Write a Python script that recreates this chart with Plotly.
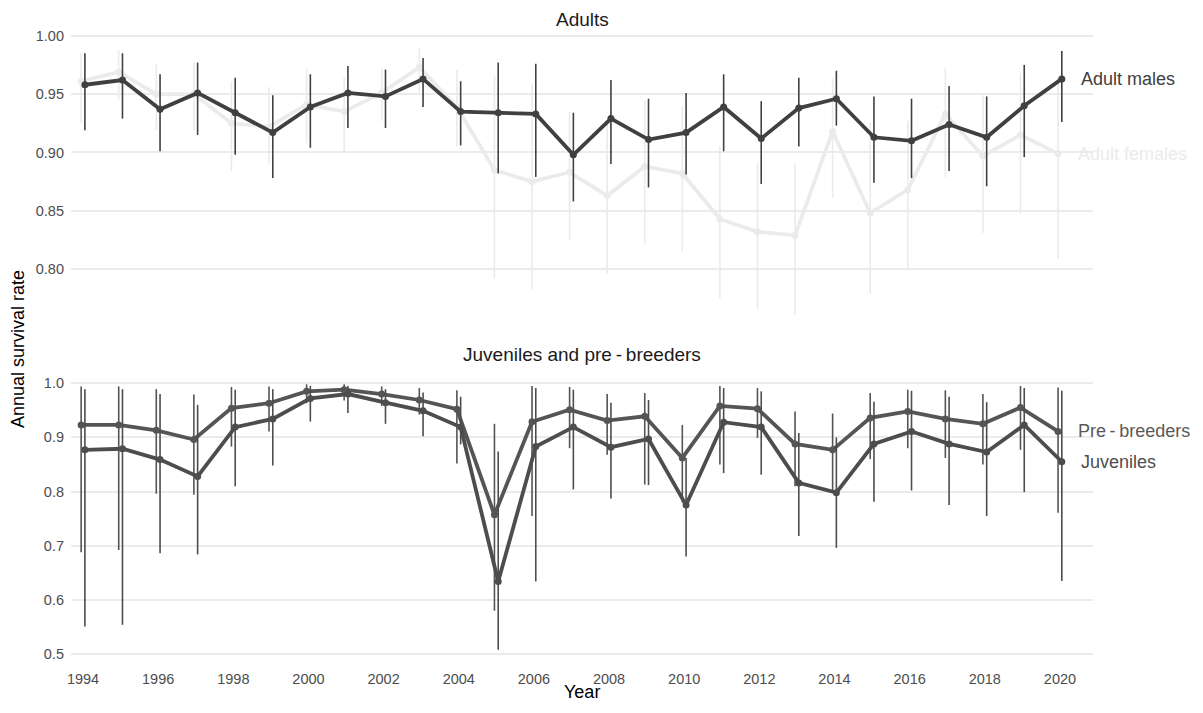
import plotly.graph_objects as go

years = list(range(1994, 2021))

# Adults
males = [0.958, 0.962, 0.937, 0.951, 0.934, 0.917, 0.939, 0.951, 0.948, 0.963, 0.935, 0.934, 0.933, 0.898,
         0.929, 0.911, 0.917, 0.939, 0.912, 0.938, 0.946, 0.913, 0.910, 0.924, 0.913, 0.940, 0.963]
males_lo = [0.919, 0.929, 0.901, 0.915, 0.898, 0.878, 0.904, 0.921, 0.921, 0.939, 0.906, 0.882, 0.879, 0.858,
            0.890, 0.870, 0.881, 0.901, 0.873, 0.905, 0.923, 0.874, 0.878, 0.884, 0.871, 0.896, 0.926]
males_hi = [0.985, 0.985, 0.967, 0.977, 0.964, 0.949, 0.967, 0.974, 0.971, 0.981, 0.961, 0.977, 0.976, 0.934,
            0.962, 0.946, 0.951, 0.967, 0.944, 0.964, 0.970, 0.948, 0.946, 0.957, 0.948, 0.975, 0.987]

females = [0.961, 0.969, 0.950, 0.950, 0.925, 0.922, 0.941, 0.935, 0.951, 0.973, 0.939, 0.885, 0.875, 0.883,
           0.863, 0.888, 0.882, 0.843, 0.832, 0.829, 0.918, 0.848, 0.868, 0.933, 0.897, 0.915, 0.899]
females_lo = [0.925, 0.945, 0.919, 0.919, 0.884, 0.890, 0.908, 0.899, 0.927, 0.950, 0.905, 0.792, 0.783, 0.825,
              0.796, 0.821, 0.815, 0.775, 0.766, 0.761, 0.861, 0.779, 0.801, 0.879, 0.831, 0.847, 0.809]
females_hi = [0.985, 0.988, 0.976, 0.977, 0.961, 0.956, 0.972, 0.964, 0.972, 0.989, 0.971, 0.966, 0.958, 0.935,
              0.925, 0.945, 0.940, 0.905, 0.891, 0.891, 0.963, 0.926, 0.927, 0.973, 0.949, 0.968, 0.965]

# Juveniles and pre-breeders
prebreeders = [0.923, 0.923, 0.913, 0.896, 0.954, 0.963, 0.985, 0.988, 0.980, 0.969, 0.952, 0.757, 0.929, 0.951,
               0.931, 0.939, 0.862, 0.958, 0.953, 0.888, 0.877, 0.936, 0.948, 0.934, 0.925, 0.955, 0.911]
pre_lo = [0.688, 0.692, 0.796, 0.794, 0.883, 0.911, 0.963, 0.968, 0.958, 0.942, 0.852, 0.580, 0.755, 0.880,
          0.868, 0.813, 0.780, 0.850, 0.899, 0.810, 0.800, 0.860, 0.880, 0.862, 0.850, 0.877, 0.761]
pre_hi = [0.994, 0.994, 0.989, 0.979, 0.993, 0.994, 0.998, 0.998, 0.994, 0.991, 0.987, 0.925, 0.995, 0.993,
          0.980, 0.982, 0.923, 0.995, 0.991, 0.948, 0.944, 0.982, 0.988, 0.987, 0.980, 0.995, 0.992]

juveniles = [0.877, 0.879, 0.859, 0.828, 0.919, 0.934, 0.972, 0.980, 0.964, 0.949, 0.919, 0.634, 0.883, 0.919,
             0.882, 0.897, 0.775, 0.928, 0.919, 0.816, 0.798, 0.888, 0.911, 0.888, 0.873, 0.923, 0.855]
juv_lo = [0.551, 0.554, 0.686, 0.684, 0.810, 0.848, 0.929, 0.945, 0.925, 0.902, 0.887, 0.508, 0.634, 0.804,
          0.787, 0.812, 0.680, 0.834, 0.831, 0.718, 0.696, 0.781, 0.802, 0.775, 0.755, 0.799, 0.635]
juv_hi = [0.989, 0.989, 0.980, 0.960, 0.988, 0.989, 0.995, 0.995, 0.989, 0.983, 0.975, 0.874, 0.991, 0.988,
          0.964, 0.969, 0.862, 0.991, 0.985, 0.908, 0.900, 0.966, 0.986, 0.975, 0.965, 0.991, 0.986]

x_ticks = list(range(1994, 2021, 2))
top_ticks = [0.80, 0.85, 0.90, 0.95, 1.00]
bottom_ticks = [0.5, 0.6, 0.7, 0.8, 0.9, 1.0]

FONT = "Liberation Sans, Arial, Helvetica, sans-serif"
DODGE = 0.05

C_MALE = "#404040"
C_FEMALE = "#ebebeb"
C_PRE = "#555555"
C_JUV = "#4d4d4d"


def series(vals, lo, hi, dodge, color, yaxis, lw=3.8):
    return go.Scatter(
        x=[y + dodge for y in years], y=vals, yaxis=yaxis, xaxis="x",
        mode="lines+markers",
        line=dict(color=color, width=lw),
        marker=dict(color=color, size=7),
        error_y=dict(type="data", symmetric=False,
                     array=[h - v for h, v in zip(hi, vals)],
                     arrayminus=[v - l for v, l in zip(vals, lo)],
                     color=color, thickness=1.6, width=0),
        showlegend=False, hoverinfo="skip",
    )


fig = go.Figure()
fig.add_trace(series(females, females_lo, females_hi, -DODGE, C_FEMALE, "y"))
fig.add_trace(series(males, males_lo, males_hi, DODGE, C_MALE, "y"))
fig.add_trace(series(prebreeders, pre_lo, pre_hi, -DODGE, C_PRE, "y2"))
fig.add_trace(series(juveniles, juv_lo, juv_hi, DODGE, C_JUV, "y2"))

tickfont = dict(family=FONT, size=14.5, color="#4d4d4d")

fig.update_layout(
    width=1203, height=713,
    margin=dict(l=71, r=110, t=34, b=50),
    paper_bgcolor="white", plot_bgcolor="white",
    font=dict(family=FONT),
    xaxis=dict(range=[1993.68, 2020.88], anchor="y2", tickvals=x_ticks,
               showgrid=False, zeroline=False, showline=False, ticks="",
               tickfont=tickfont, ticklabelstandoff=5),
    yaxis=dict(domain=[0.539, 1.0], range=[0.753, 1.0015], anchor="x",
               tickvals=top_ticks, tickformat=".2f",
               showgrid=True, gridcolor="#ebebeb", gridwidth=1.5,
               zeroline=False, showline=False, ticks="",
               tickfont=tickfont, ticklabelstandoff=6),
    yaxis2=dict(domain=[0.0, 0.4642], range=[0.4835, 1.0225], anchor="x",
                tickvals=bottom_ticks, tickformat=".1f",
                showgrid=True, gridcolor="#ebebeb", gridwidth=1.5,
                zeroline=False, showline=False, ticks="",
                tickfont=tickfont, ticklabelstandoff=6),
)

annos = [
    dict(text="Adults", x=0.5, y=1.0235, xref="paper", yref="paper",
         font=dict(size=19, color="#1a1a1a")),
    dict(text="Juveniles and pre\u2009-\u2009breeders", x=0.5, y=0.4912, xref="paper", yref="paper",
         font=dict(size=19, color="#1a1a1a")),
    dict(text="Year", x=0.5, y=-0.0461, xref="paper", yref="paper",
         font=dict(size=18, color="#000000")),
    dict(text="Annual survival rate", x=-0.0519, y=0.4992, xref="paper", yref="paper",
         textangle=-90, xshift=-12, font=dict(size=18, color="#000000")),
    dict(text="Adult males", x=2020.5, y=males[-1], xref="x", yref="y",
         xanchor="left", font=dict(size=18, color=C_MALE)),
    dict(text="Adult females", x=2020.42, y=females[-1], xref="x", yref="y",
         xanchor="left", font=dict(size=18, color=C_FEMALE)),
    dict(text="Pre\u2009-\u2009breeders", x=2020.42, y=prebreeders[-1], xref="x", yref="y2",
         xanchor="left", font=dict(size=18, color="#5a5a5a")),
    dict(text="Juveniles", x=2020.5, y=juveniles[-1], xref="x", yref="y2",
         xanchor="left", font=dict(size=18, color=C_JUV)),
]
for a in annos:
    a.setdefault("showarrow", False)
    a.setdefault("yanchor", "middle")
    a["font"]["family"] = FONT
    fig.add_annotation(**a)

fig.write_html("out.html")
